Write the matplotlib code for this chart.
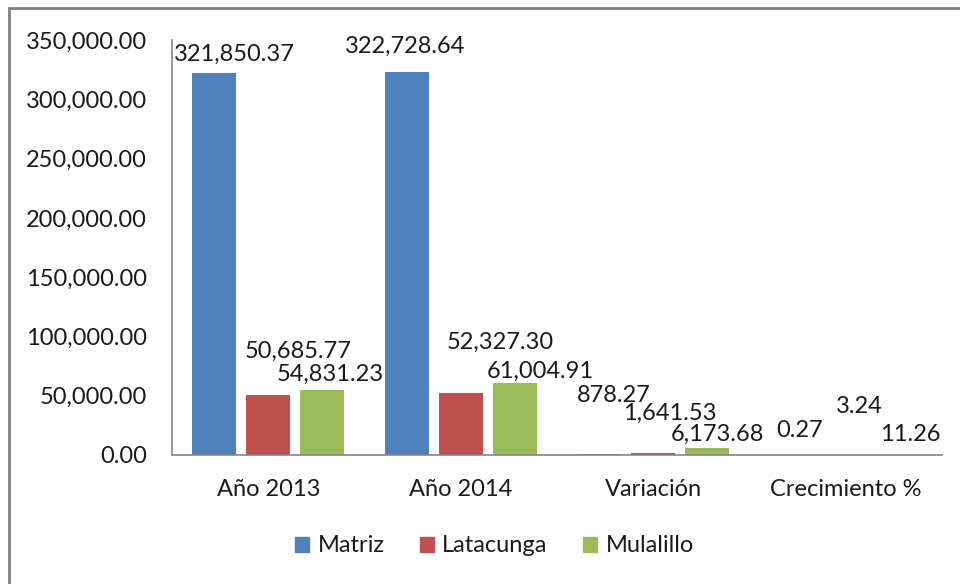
import numpy as np
import matplotlib
matplotlib.use('Agg')
import matplotlib.pyplot as plt
import matplotlib.patches as mpatches
from matplotlib.ticker import FuncFormatter

# Data
categories = ['Año 2013', 'Año 2014', 'Variación', 'Crecimiento %']
series = ['Matriz', 'Latacunga', 'Mulalillo']
matriz = [321850.37, 322728.64, 878.27, 0.27]
latacunga = [50685.77, 52327.30, 1641.53, 3.24]
mulalillo = [54831.23, 61004.91, 6173.68, 11.26]
values = [matriz, latacunga, mulalillo]

colors = ['#4F81BD', '#C0504D', '#9BBB59']

# label offsets (pixels, relative to bar top centre) - labels were moved by hand in the original
label_dx = [[20, -2, 14, 8], [30, 39, 16, 14], [8, 26, 10, 11]]
label_dy = [[19, 26, 58, 24], [44, 51, 40, 48], [16, 11, 13, 20]]

plt.rcParams['font.family'] = ['Lato', 'DejaVu Sans']
text_color = '#1a1a1a'
axis_color = '#868686'
fs = 17

fig = plt.figure(figsize=(9.6, 5.84), dpi=100)
ax = fig.add_axes([0.1792, 0.2209, 0.8021, 0.7106])

x = np.arange(len(categories))
width = 0.229
pitch = 0.28

for i, (name, vals) in enumerate(zip(series, values)):
    pos = x + (i - 1) * pitch
    bars = ax.bar(pos, vals, width=width, color=colors[i], label=name)
    for j, b in enumerate(bars):
        ax.annotate(f"{vals[j]:,.2f}", (b.get_x() + b.get_width() / 2, b.get_height()),
                    xytext=(label_dx[i][j], label_dy[i][j]), textcoords='offset pixels',
                    ha='center', va='center', fontsize=fs, color=text_color)

ax.set_xlim(-0.5, 3.5)
ax.set_ylim(0, 350000)
ax.set_yticks(np.arange(0, 350001, 50000))
ax.yaxis.set_major_formatter(FuncFormatter(lambda v, p: f"{v:,.2f}"))
ax.set_xticks(x)
ax.set_xticklabels(categories)
ax.tick_params(axis='both', length=0, labelsize=fs, colors=text_color)
ax.tick_params(axis='y', pad=18)
ax.tick_params(axis='x', pad=17)

for side in ['top', 'right']:
    ax.spines[side].set_visible(False)
for side in ['left', 'bottom']:
    ax.spines[side].set_color(axis_color)
    ax.spines[side].set_linewidth(1.2)

handles = [mpatches.Patch(color=c, label=s) for s, c in zip(series, colors)]
fig.legend(handles=handles, loc='center', bbox_to_anchor=(0.515, 1 - 546 / 584), ncol=3,
           frameon=False, fontsize=fs, handlelength=0.6, handleheight=0.6,
           handletextpad=0.35, columnspacing=1.5, labelcolor=text_color)

# chart border
border = mpatches.Rectangle((9 / 960, -0.1), 1.2, 1 - 8 / 584 + 0.1, transform=fig.transFigure,
                            fill=False, edgecolor='#808080', linewidth=2, clip_on=False)
fig.patches.append(border)

fig.savefig('out.png', dpi=100, facecolor='white')
